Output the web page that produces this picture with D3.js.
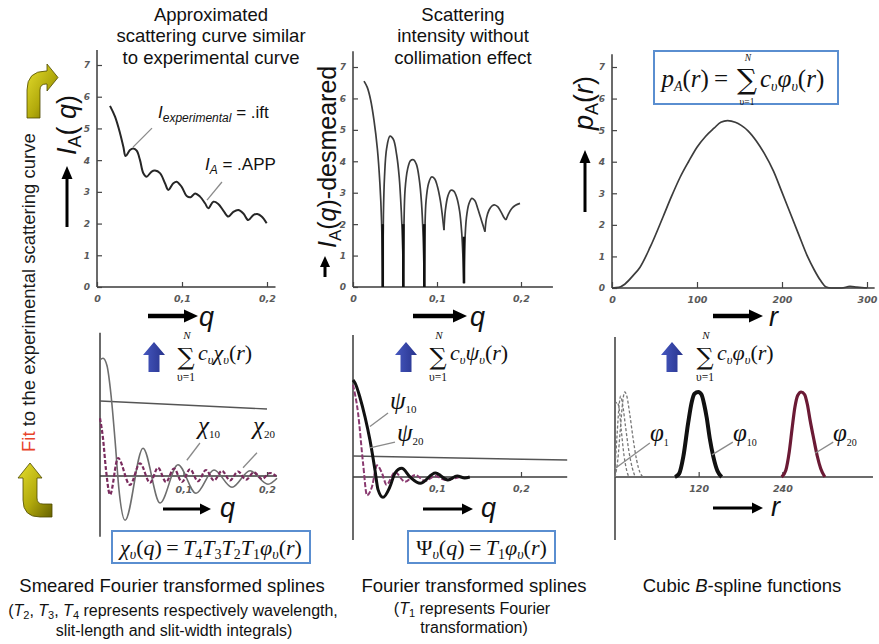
<!DOCTYPE html>
<html><head><meta charset="utf-8">
<script src="https://cdnjs.cloudflare.com/ajax/libs/d3/7.8.5/d3.min.js"></script>
<style>body{margin:0;background:#fff}svg{display:block}</style>
</head><body>
<svg id="c" width="879" height="644"></svg>
<script>
// ================= DATA =================
const titleLeft = ["Approximated", "scattering curve similar", "to experimental curve"];
const titleMid = ["Scattering", "intensity without", "collimation effect"];
const yTicksTop = [0, 1, 2, 3, 4, 5, 6, 7];
const qTicks = [0, 0.1, 0.2];
const qTickLabels = ["0", "0,1", "0,2"];
const qTicksBottom = [0.1, 0.2];
const qTickLabelsBottom = ["0,1", "0,2"];
const rTicks = [0, 100, 200, 300];
const splineTicks = [120, 240];

// top-left: experimental (smeared) scattering curve I_A(q)
const expCurve = [[0.0153,5.71],[0.0212,5.37],[0.0271,4.85],[0.031,4.42],[0.0337,4.13],[0.0388,4.32],[0.0427,4.37],
  [0.0467,4.30],[0.0506,4.0],[0.0545,3.59],[0.0584,3.48],[0.0643,3.64],[0.0682,3.67],[0.0741,3.59],[0.080,3.27],
  [0.0839,3.06],[0.0898,3.27],[0.0937,3.32],[0.0996,3.16],[0.1055,2.87],[0.1102,2.83],[0.1153,2.95],[0.1212,2.85],
  [0.1271,2.64],[0.131,2.48],[0.1369,2.69],[0.1427,2.62],[0.1486,2.41],[0.1545,2.22],[0.1604,2.37],[0.1663,2.43],
  [0.1722,2.32],[0.178,2.11],[0.1839,2.27],[0.1886,2.30],[0.1937,2.22],[0.1996,2.01]];

// top-middle: desmeared intensity, one array per lobe
const lobe1 = [[0.0131,6.55],[0.017,6.35],[0.021,5.95],[0.025,5.3],[0.029,4.4],[0.032,3.3],[0.034,2.1],[0.0354,0]];
const lobe2 = [[0.0354,0],[0.0362,2.3],[0.0375,3.5],[0.040,4.4],[0.044,4.8],[0.048,4.7],[0.052,4.2],[0.055,3.5],[0.0575,2.4],[0.0592,1.2],[0.0599,0]];
const lobe3 = [[0.0599,0],[0.0607,2.0],[0.062,3.1],[0.065,3.75],[0.0685,4.02],[0.072,4.05],[0.0755,3.9],[0.079,3.4],[0.0815,2.7],[0.0835,1.6],[0.0849,0]];
const lobe4 = [[0.0849,0],[0.0857,1.9],[0.087,2.75],[0.090,3.3],[0.0935,3.5],[0.097,3.45],[0.1005,3.2],[0.104,2.75],[0.1065,2.25],[0.1083,1.81]];
const lobe5 = [[0.1083,1.81],[0.110,2.45],[0.113,2.9],[0.1165,3.08],[0.120,3.05],[0.1235,2.85],[0.127,2.4],[0.1295,1.7],[0.131,0.9],[0.1321,0.12]];
const lobe6 = [[0.1321,0.12],[0.133,1.3],[0.135,2.2],[0.138,2.65],[0.1415,2.82],[0.145,2.75],[0.1485,2.5],[0.152,2.2],[0.1555,1.9],[0.1571,1.76]];
const lobe7 = [[0.1571,1.76],[0.159,2.2],[0.162,2.45],[0.1655,2.58],[0.169,2.61],[0.1725,2.55],[0.176,2.4],[0.1795,2.22],[0.1821,2.13]];
const lobe8 = [[0.1821,2.13],[0.185,2.32],[0.189,2.5],[0.1935,2.6],[0.1988,2.66]];
const cuspQ = [0.0354, 0.0599, 0.0849, 0.1321];
const cuspLow = [0, 0, 0, 0.12];
const cuspHigh = [2.0, 2.0, 2.0, 1.6];

// top-right: distance distribution p_A(r)
const pofr = [[0,0],[8,0.02],[15,0.12],[25,0.4],[33,0.66],[45,1.3],[60,2.25],[70,2.9],[80,3.5],[90,4.0],[100,4.46],
  [110,4.8],[120,5.06],[128,5.25],[136,5.3],[145,5.25],[152,5.15],[160,4.98],[170,4.65],[179,4.27],[190,3.7],[199,3.1],
  [210,2.35],[219,1.74],[230,1.0],[238,0.57],[245,0.25],[252,0.03],[258,0],[270,0],[280,0.05],[288,0.03],[300,0]];

// bottom-left: smeared Fourier transformed splines
const chi10 = [[0,1.55],[0.0036,1.57],[0.0084,1.47],[0.0132,1.08],[0.018,0.48],[0.0228,-0.19],[0.030,-0.59],[0.0515,0.37],
  [0.0719,-0.36],[0.0934,0.15],[0.115,-0.23],[0.1365,0.08],[0.1581,-0.15],[0.1796,0.07],[0.2012,-0.11],[0.212,-0.03]];
const chi20 = [[0,0.77],[0.0036,0.5],[0.0072,0.08],[0.012,-0.25],[0.0216,0.24],[0.0359,-0.12],[0.0479,0.17],[0.0599,-0.09],
  [0.0695,0.11],[0.079,-0.08],[0.0886,0.1],[0.0982,-0.08],[0.1078,0.09],[0.1174,-0.07],[0.1269,0.08],[0.1365,-0.06],
  [0.1461,0.07],[0.1557,-0.06],[0.1653,0.06],[0.1749,-0.05],[0.1844,0.05],[0.194,-0.04],[0.2036,0.04],[0.2108,0]];
const chiRef = [[0,1],[0.2,0.893]];

// bottom-middle: Fourier transformed splines
const psi10 = [[0,1.0],[0.0024,0.97],[0.0083,0.82],[0.0143,0.62],[0.0202,0.38],[0.0262,0.07],[0.0298,-0.13],[0.0357,-0.21],
  [0.044,-0.10],[0.050,0.04],[0.058,0.09],[0.068,0.0],[0.080,-0.065],[0.098,0.04],[0.113,-0.03],[0.124,0.01],[0.133,-0.01],[0.139,0]];
const psi20 = [[0,0.95],[0.006,0.66],[0.012,0.14],[0.0167,-0.19],[0.0226,-0.10],[0.0286,0.12],[0.0345,0.04],[0.040,-0.08],
  [0.050,0.05],[0.062,-0.05],[0.074,0.02],[0.086,-0.04],[0.098,0.01],[0.11,-0.03],[0.127,0]];
const psiRef = [[0,0.216],[0.255,0.175]];

// bottom-right: cubic B-spline functions
const phi1a = [[0,0.85],[3,0.88],[6,0.8],[9,0.55],[13,0.25],[17,0.07],[20,0]];
const phi1b = [[0,0.1],[3,0.5],[6,0.85],[8,0.95],[11,0.85],[15,0.6],[20,0.3],[25,0.1],[29,0]];
const phi1c = [[0,0],[4,0.2],[8,0.6],[11,0.88],[14,1.0],[17,0.95],[21,0.75],[26,0.45],[31,0.2],[36,0.05],[40,0]];
const phi10 = [[86,0],[92,0.04],[98,0.24],[105,0.64],[110,0.88],[114,0.98],[119.5,1.0],[124,0.97],[128,0.85],[131.5,0.7],[136,0.45],[141,0.24],[147,0.07],[153,0]];
const phi20 = [[239,0],[245,0.08],[250,0.3],[254,0.57],[258,0.82],[262,0.96],[267,1.0],[272,0.97],[276,0.85],[280,0.66],[285,0.45],[290,0.25],[295,0.1],[301,0]];

// ================= LAYOUT =================
const SANS = "'Liberation Sans', Arial, sans-serif";
const SERIF = "'Liberation Serif', 'Times New Roman', serif";
const SIGMA_FONT = "'DejaVu Serif', serif";
const svg = d3.select("#c");
const defs = svg.append("defs");

const xTL = d3.scaleLinear([0, 0.2], [97, 267]),  yTL = d3.scaleLinear([0, 7], [287, 65]);
const xTM = d3.scaleLinear([0, 0.2], [353, 521]), yTM = d3.scaleLinear([0, 7], [287, 67]);
const xTR = d3.scaleLinear([0, 300], [612, 867]), yTR = d3.scaleLinear([0, 7], [288, 67]);
const xBL = d3.scaleLinear([0, 0.2], [100, 267]), yBL = d3.scaleLinear([0, 1], [476, 401]);
const xBM = d3.scaleLinear([0, 0.2], [353, 521]), yBM = d3.scaleLinear([0, 1], [477, 380]);
const xBR = d3.scaleLinear([0, 360], [615, 866]), yBR = d3.scaleLinear([0, 1], [477, 392]);

// ---------- gradients ----------
const og = defs.append("linearGradient").attr("id", "olive").attr("x1", 0).attr("y1", 0).attr("x2", 1).attr("y2", 1);
og.append("stop").attr("offset", 0).attr("stop-color", "#e6df2e");
og.append("stop").attr("offset", 0.55).attr("stop-color", "#b2aa0c");
og.append("stop").attr("offset", 1).attr("stop-color", "#676200");
const bg = defs.append("linearGradient").attr("id", "blue").attr("x1", 0).attr("y1", 0).attr("x2", 1).attr("y2", 0);
bg.append("stop").attr("offset", 0).attr("stop-color", "#4658c0");
bg.append("stop").attr("offset", 1).attr("stop-color", "#27338c");

// ---------- helpers ----------
// chunks: [{x, y, anchor, size, family, parts:[{t, it, sub, size, shift, fill}]}] -> one <text> element
function formula(parent, base, chunks) {
  const t = parent.append("text").attr("font-family", base.family).attr("font-size", base.size)
    .attr("fill", base.fill || "#111");
  if (base.transform) t.attr("transform", base.transform);
  chunks.forEach(ch => {
    let cur = 0;
    ch.parts.forEach((p, i) => {
      const s = t.append("tspan").text(p.t);
      const target = p.sub ? (p.shift != null ? p.shift : base.size * 0.22) : 0;
      if (i === 0) {
        s.attr("x", ch.x).attr("y", ch.y + target);
        if (ch.anchor) s.attr("text-anchor", ch.anchor);
      } else if (target !== cur) s.attr("dy", target - cur);
      cur = target;
      const sz = p.size || ch.size || (p.sub ? base.size * 0.6 : null);
      if (sz) s.attr("font-size", sz);
      if (ch.family) s.attr("font-family", ch.family);
      if (p.it) s.attr("font-style", "italic");
      if (p.fill) s.attr("fill", p.fill);
    });
  });
  return t;
}
function rich(parent, x, y, parts, base) {
  const t = formula(parent, base, [{ x, y, parts }]);
  if (base.anchor) t.attr("text-anchor", base.anchor);
  return t;
}
function arrow(x1, y1, x2, y2, w, hl, hw, color) {
  const a = Math.atan2(y2 - y1, x2 - x1), c = Math.cos(a), s = Math.sin(a);
  const bx = x2 - hl * c, by = y2 - hl * s;
  svg.append("line").attr("x1", x1).attr("y1", y1).attr("x2", bx + c).attr("y2", by + s)
    .attr("stroke", color).attr("stroke-width", w);
  svg.append("path").attr("d", `M${x2},${y2}L${bx - hw * s},${by + hw * c}L${bx + hw * s},${by - hw * c}Z`).attr("fill", color);
}
function line(data, xs, ys, curve) {
  return d3.line().x(d => xs(d[0])).y(d => ys(d[1])).curve(curve || d3.curveLinear)(data);
}
function styleTicks(g, size) {
  g.select(".domain").remove();
  g.selectAll(".tick line").attr("stroke", "#444").attr("stroke-width", 1.2);
  g.selectAll(".tick text").attr("font-family", "'DejaVu Sans', sans-serif").attr("font-style", "italic")
    .attr("font-weight", "bold").attr("font-size", size || 9).attr("fill", "#5a5a5a");
}
function axisLine(x1, y1, x2, y2) {
  svg.append("line").attr("x1", x1).attr("y1", y1).attr("x2", x2).attr("y2", y2)
    .attr("stroke", "#3a3a3a").attr("stroke-width", 1.5);
}
function leader(xs, ys, a, b) {
  svg.append("line").attr("x1", xs(a[0])).attr("y1", ys(a[1])).attr("x2", xs(b[0])).attr("y2", ys(b[1]))
    .attr("stroke", "#8a8a8a").attr("stroke-width", 1.3);
}

// ================= TITLES =================
titleLeft.forEach((t, i) => svg.append("text").attr("x", 211).attr("y", [20.5, 42, 63.5][i])
  .attr("text-anchor", "middle").attr("font-family", SANS).attr("font-size", 18.5).attr("fill", "#111").text(t));
titleMid.forEach((t, i) => svg.append("text").attr("x", 463).attr("y", [20.5, 42, 63.5][i])
  .attr("text-anchor", "middle").attr("font-family", SANS).attr("font-size", 18.5).attr("fill", "#111").text(t));

// ================= TOP-LEFT PANEL =================
axisLine(xTL(0), yTL(0), xTL(0), yTL(7.47));
axisLine(xTL(0), yTL(0), xTL(0.21), yTL(0));
styleTicks(svg.append("g").attr("transform", `translate(${xTL(0)},0)`)
  .call(d3.axisLeft(yTL).tickValues(yTicksTop).tickSize(-5).tickPadding(7).tickFormat(d3.format("d"))));
styleTicks(svg.append("g").attr("transform", `translate(0,${yTL(0)})`)
  .call(d3.axisBottom(xTL).tickValues(qTicks).tickSize(-5).tickPadding(8).tickFormat((d, i) => qTickLabels[i])), 9.5);
svg.append("path").attr("d", line(expCurve, xTL, yTL, d3.curveCatmullRom)).attr("fill", "none")
  .attr("stroke", "#262626").attr("stroke-width", 2).attr("stroke-linejoin", "round");
leader(xTL, yTL, [0.0424, 4.41], [0.0647, 5.01]);
leader(xTL, yTL, [0.1294, 2.74], [0.147, 3.31]);
rich(svg, 158, 118, [{ t: "I", it: 1 }, { t: "experimental", it: 1, sub: 1, size: 12, shift: 4 }, { t: " =  .ift" }],
  { family: SANS, size: 17 });
rich(svg, 205, 170, [{ t: "I", it: 1 }, { t: "A", it: 1, sub: 1, size: 12, shift: 4 }, { t: " = .APP" }],
  { family: SANS, size: 17 });
rich(svg, 0, 0, [{ t: "I", it: 1 }, { t: "A", sub: 1, size: 18, shift: 5 }, { t: "( " }, { t: "q", it: 1 }, { t: ")" }],
  { family: SANS, size: 27, transform: "translate(76,155) rotate(-90)" });
arrow(67, 227, 67, 166, 3, 13, 5.5, "#000");
arrow(148, 316, 198, 316, 4.5, 14, 6.5, "#000");
rich(svg, 199, 326, [{ t: "q", it: 1 }], { family: SANS, size: 27 });

// ================= TOP-MIDDLE PANEL =================
axisLine(xTM(0), yTM(0), xTM(0), yTM(7.5));
axisLine(xTM(0), yTM(0), xTM(0.238), yTM(0));
styleTicks(svg.append("g").attr("transform", `translate(${xTM(0)},0)`)
  .call(d3.axisLeft(yTM).tickValues(yTicksTop).tickSize(-5).tickPadding(7).tickFormat(d3.format("d"))));
styleTicks(svg.append("g").attr("transform", `translate(0,${yTM(0)})`)
  .call(d3.axisBottom(xTM).tickValues(qTicks).tickSize(-5).tickPadding(8).tickFormat((d, i) => qTickLabels[i])), 9.5);
[lobe1, lobe2, lobe3, lobe4, lobe5, lobe6, lobe7, lobe8].forEach(l =>
  svg.append("path").attr("d", line(l, xTM, yTM, d3.curveCatmullRom)).attr("fill", "none")
    .attr("stroke", "#3c3c3c").attr("stroke-width", 1.7));
cuspQ.forEach((q, i) => svg.append("line").attr("x1", xTM(q)).attr("x2", xTM(q))
  .attr("y1", yTM(cuspLow[i])).attr("y2", yTM(cuspHigh[i])).attr("stroke", "#111").attr("stroke-width", 2.6));
rich(svg, 0, 0, [{ t: "I", it: 1 }, { t: "A", sub: 1, size: 17, shift: 5 }, { t: "(" }, { t: "q", it: 1 }, { t: ")-desmeared" }],
  { family: SANS, size: 25, transform: "translate(336,248) rotate(-90)" });
arrow(325, 277, 325, 256, 3, 11, 5, "#000");
arrow(413, 316, 467, 316, 4.5, 14, 6.5, "#000");
rich(svg, 470, 326, [{ t: "q", it: 1 }], { family: SANS, size: 27 });

// ================= TOP-RIGHT PANEL =================
axisLine(xTR(0), yTR(0), xTR(0), yTR(7.4));
axisLine(xTR(0), yTR(0), xTR(309), yTR(0));
styleTicks(svg.append("g").attr("transform", `translate(${xTR(0)},0)`)
  .call(d3.axisLeft(yTR).tickValues(yTicksTop).tickSize(-5).tickPadding(7).tickFormat(d3.format("d"))));
styleTicks(svg.append("g").attr("transform", `translate(0,${yTR(0)})`)
  .call(d3.axisBottom(xTR).tickValues(rTicks).tickSize(-6).tickPadding(8).tickFormat(d3.format("d"))), 9.5);
svg.append("path").attr("d", line(pofr, xTR, yTR, d3.curveMonotoneX)).attr("fill", "none")
  .attr("stroke", "#3c3c3c").attr("stroke-width", 1.7);
rich(svg, 0, 0, [{ t: "p", it: 1 }, { t: "A", sub: 1, size: 18, shift: 5 }, { t: "(" }, { t: "r", it: 1 }, { t: ")" }],
  { family: SANS, size: 27, transform: "translate(593,130) rotate(-90)" });
arrow(585, 212, 585, 150, 3, 13, 5.5, "#000");
arrow(713, 316, 763, 316, 4.5, 14, 6.5, "#000");
rich(svg, 769, 326, [{ t: "r", it: 1 }], { family: SANS, size: 27 });
// formula box
svg.append("rect").attr("x", 654).attr("y", 51).attr("width", 184).attr("height", 53)
  .attr("fill", "#fff").attr("stroke", "#5a8ed0").attr("stroke-width", 2);
formula(svg, { family: SERIF, size: 25 }, [
  { x: 733, y: 87, anchor: "end", parts: [{ t: "p", it: 1 }, { t: "A", it: 1, sub: 1, size: 14, shift: 4 }, { t: "(" }, { t: "r", it: 1 }, { t: ")\u2009=\u2009" }] },
  { x: 748, y: 60.5, anchor: "middle", size: 9.5, parts: [{ t: "N", it: 1 }] },
  { x: 747, y: 89, anchor: "middle", size: 28, family: SIGMA_FONT, parts: [{ t: "\u2211" }] },
  { x: 747, y: 104.5, anchor: "middle", size: 9.5, parts: [{ t: "\u03c5=1" }] },
  { x: 760, y: 87, parts: [{ t: "c", it: 1 }, { t: "\u03c5", it: 1, sub: 1, size: 14, shift: 4 }, { t: "\u03c6", it: 1 }, { t: "\u03c5", it: 1, sub: 1, size: 14, shift: 4 }, { t: "(" }, { t: "r", it: 1 }, { t: ")" }] }
]);

// ================= LEFT DECORATION =================
svg.append("path").attr("d", "M27,118L27,90Q27,71 46,71L47,71L47,64L58,77.5L47,91L47,84L46,84Q40,84 40,90L40,118Z")
  .attr("fill", "url(#olive)").attr("stroke", "#4e4a00").attr("stroke-width", 0.8);
svg.append("path").attr("d", "M30,463L42,478L37,478L37,498Q37,504 43,504L52,504L52,517L40,517Q23,517 23,500L23,478L18,478Z")
  .attr("fill", "url(#olive)").attr("stroke", "#4e4a00").attr("stroke-width", 0.8);
rich(svg, 0, 0, [{ t: "Fit", fill: "#e8432a" }, { t: " to the experimental scattering curve" }],
  { family: SANS, size: 18.5, fill: "#1a1a1a", transform: "translate(35,452) rotate(-90)" });

// ================= SUM FORMULAS WITH BLUE ARROWS =================
function blueArrow(cx) {
  svg.append("path").attr("d", `M${cx},342L${cx + 11},355L${cx + 5.5},355L${cx + 5.5},372L${cx - 5.5},372L${cx - 5.5},355L${cx - 11},355Z`)
    .attr("fill", "url(#blue)");
}
function sumFormula(sx, fn) {
  formula(svg, { family: SERIF, size: 22 }, [
    { x: sx + 1, y: 339, anchor: "middle", size: 11, parts: [{ t: "N", it: 1 }] },
    { x: sx, y: 365, anchor: "middle", size: 24, family: SIGMA_FONT, parts: [{ t: "\u2211" }] },
    { x: sx, y: 380.5, anchor: "middle", size: 11.5, parts: [{ t: "\u03c5=1" }] },
    { x: sx + 12, y: 360, parts: [{ t: "c", it: 1 }, { t: "\u03c5", it: 1, sub: 1, size: 12.5, shift: 4 }, { t: fn, it: 1 }, { t: "\u03c5", it: 1, sub: 1, size: 12.5, shift: 4 }, { t: "(" }, { t: "r", it: 1 }, { t: ")" }] }
  ]);
}
blueArrow(154); sumFormula(186, "\u03c7");
blueArrow(406); sumFormula(438, "\u03c8");
blueArrow(672); sumFormula(705, "\u03c6");

// ================= BOTTOM-LEFT PANEL =================
axisLine(xBL(0), yBL(1.91), xBL(0), yBL(-0.81));
axisLine(xBL(0), yBL(0), xBL(0.212), yBL(0));
svg.append("path").attr("d", line(chiRef, xBL, yBL)).attr("stroke", "#555").attr("stroke-width", 1.4).attr("fill", "none");
styleTicks(svg.append("g").attr("transform", `translate(0,${yBL(0)})`)
  .call(d3.axisBottom(xBL).tickValues(qTicksBottom).tickSize(-4).tickPadding(10).tickFormat((d, i) => qTickLabelsBottom[i])), 9.5);
svg.append("path").attr("d", line(chi10, xBL, yBL, d3.curveMonotoneX)).attr("fill", "none")
  .attr("stroke", "#6e6e6e").attr("stroke-width", 1.6);
svg.append("path").attr("d", line(chi20, xBL, yBL, d3.curveMonotoneX)).attr("fill", "none")
  .attr("stroke", "#7a2c5e").attr("stroke-width", 2.2).attr("stroke-dasharray", "4,2");
leader(xBL, yBL, [0.104, 0.21], [0.1197, 0.44]);
leader(xBL, yBL, [0.1713, 0.11], [0.1880, 0.31]);
rich(svg, 198, 434, [{ t: "\u03c7", it: 1 }, { t: "10", sub: 1, size: 11, shift: 4 }], { family: SERIF, size: 25 });
rich(svg, 253, 434, [{ t: "\u03c7", it: 1 }, { t: "20", sub: 1, size: 11, shift: 4 }], { family: SERIF, size: 25 });
arrow(163, 509, 211, 509, 3, 11, 5.5, "#000");
rich(svg, 220, 517, [{ t: "q", it: 1 }], { family: SANS, size: 27 });
svg.append("rect").attr("x", 112).attr("y", 531).attr("width", 198).attr("height", 32)
  .attr("fill", "#fff").attr("stroke", "#5a8ed0").attr("stroke-width", 2);
rich(svg, 211, 555, [{ t: "\u03c7", it: 1 }, { t: "\u03c5", it: 1, sub: 1, size: 14, shift: 4 }, { t: "(" }, { t: "q", it: 1 }, { t: ")\u2009=\u2009" },
  { t: "T", it: 1 }, { t: "4", sub: 1, size: 14, shift: 4 }, { t: "T", it: 1 }, { t: "3", sub: 1, size: 14, shift: 4 },
  { t: "T", it: 1 }, { t: "2", sub: 1, size: 14, shift: 4 }, { t: "T", it: 1 }, { t: "1", sub: 1, size: 14, shift: 4 },
  { t: "\u03c6", it: 1 }, { t: "\u03c5", it: 1, sub: 1, size: 14, shift: 4 }, { t: "(" }, { t: "r", it: 1 }, { t: ")" }],
  { family: SERIF, size: 22, anchor: "middle" });

// ================= BOTTOM-MIDDLE PANEL =================
axisLine(xBM(0), yBM(1.464), xBM(0), yBM(-0.65));
axisLine(xBM(0), yBM(0), xBM(0.255), yBM(0));
svg.append("path").attr("d", line(psiRef, xBM, yBM)).attr("stroke", "#555").attr("stroke-width", 1.4).attr("fill", "none");
styleTicks(svg.append("g").attr("transform", `translate(0,${yBM(0)})`)
  .call(d3.axisBottom(xBM).tickValues(qTicksBottom).tickSize(-5).tickPadding(8).tickFormat((d, i) => qTickLabelsBottom[i])), 9.5);
svg.append("path").attr("d", line(psi20, xBM, yBM, d3.curveMonotoneX)).attr("fill", "none")
  .attr("stroke", "#8a3a70").attr("stroke-width", 2).attr("stroke-dasharray", "5,2");
svg.append("path").attr("d", line(psi10, xBM, yBM, d3.curveMonotoneX)).attr("fill", "none")
  .attr("stroke", "#111").attr("stroke-width", 3);
leader(xBM, yBM, [0.0202, 0.52], [0.0417, 0.66]);
leader(xBM, yBM, [0.0202, 0.30], [0.0500, 0.36]);
rich(svg, 390, 409, [{ t: "\u03c8", it: 1 }, { t: "10", sub: 1, size: 11, shift: 4 }], { family: SERIF, size: 25 });
rich(svg, 397, 441, [{ t: "\u03c8", it: 1 }, { t: "20", sub: 1, size: 11, shift: 4 }], { family: SERIF, size: 25 });
arrow(423, 509, 473, 509, 3, 11, 5.5, "#000");
rich(svg, 481, 517, [{ t: "q", it: 1 }], { family: SANS, size: 27 });
svg.append("rect").attr("x", 408).attr("y", 531).attr("width", 147).attr("height", 32)
  .attr("fill", "#fff").attr("stroke", "#5a8ed0").attr("stroke-width", 2);
rich(svg, 481.5, 555, [{ t: "\u03a8" }, { t: "\u03c5", it: 1, sub: 1, size: 14, shift: 4 }, { t: "(" }, { t: "q", it: 1 }, { t: ")\u2009=\u2009" },
  { t: "T", it: 1 }, { t: "1", sub: 1, size: 14, shift: 4 }, { t: "\u03c6", it: 1 }, { t: "\u03c5", it: 1, sub: 1, size: 14, shift: 4 },
  { t: "(" }, { t: "r", it: 1 }, { t: ")" }], { family: SERIF, size: 22, anchor: "middle" });

// ================= BOTTOM-RIGHT PANEL =================
axisLine(xBR(0), yBR(1.647), xBR(0), yBR(-0.741));
axisLine(xBR(0), yBR(0), xBR(370), yBR(0));
styleTicks(svg.append("g").attr("transform", `translate(0,${yBR(0)})`)
  .call(d3.axisBottom(xBR).tickValues(splineTicks).tickSize(-5).tickPadding(8).tickFormat(d3.format("d"))), 9.5);
[phi1a, phi1b, phi1c].forEach(d => svg.append("path").attr("d", line(d, xBR, yBR, d3.curveMonotoneX))
  .attr("fill", "none").attr("stroke", "#777").attr("stroke-width", 1.3).attr("stroke-dasharray", "3,2"));
svg.append("path").attr("d", line(phi10, xBR, yBR, d3.curveMonotoneX)).attr("fill", "none")
  .attr("stroke", "#111").attr("stroke-width", 4);
svg.append("path").attr("d", line(phi20, xBR, yBR, d3.curveMonotoneX)).attr("fill", "none")
  .attr("stroke", "#6b1a35").attr("stroke-width", 3.2);
leader(xBR, yBR, [0, 0.1], [50, 0.4]);
leader(xBR, yBR, [139, 0.26], [169, 0.41]);
leader(xBR, yBR, [287, 0.28], [313, 0.41]);
rich(svg, 650, 441, [{ t: "\u03c6", it: 1 }, { t: "1", sub: 1, size: 10, shift: 5 }], { family: SERIF, size: 25 });
rich(svg, 733, 441, [{ t: "\u03c6", it: 1 }, { t: "10", sub: 1, size: 10, shift: 5 }], { family: SERIF, size: 25 });
rich(svg, 833, 441, [{ t: "\u03c6", it: 1 }, { t: "20", sub: 1, size: 10, shift: 5 }], { family: SERIF, size: 25 });
arrow(713, 508, 763, 508, 3, 11, 5.5, "#000");
rich(svg, 771, 516, [{ t: "r", it: 1 }], { family: SANS, size: 27 });

// ================= CAPTIONS =================
svg.append("text").attr("x", 172).attr("y", 592).attr("text-anchor", "middle").attr("font-family", SANS).attr("font-size", 18.5).attr("fill", "#111").text("Smeared Fourier transformed splines");
rich(svg, 173, 616, [{ t: "(" }, { t: "T", it: 1 }, { t: "2", sub: 1, size: 11, shift: 3 }, { t: ", " }, { t: "T", it: 1 }, { t: "3", sub: 1, size: 11, shift: 3 },
  { t: ", " }, { t: "T", it: 1 }, { t: "4", sub: 1, size: 11, shift: 3 }, { t: " represents respectively wavelength," }],
  { family: SANS, size: 16, anchor: "middle" });
svg.append("text").attr("x", 174).attr("y", 636).attr("text-anchor", "middle").attr("font-family", SANS).attr("font-size", 16).attr("fill", "#111").text("slit-length and slit-width integrals)");
svg.append("text").attr("x", 474).attr("y", 592).attr("text-anchor", "middle").attr("font-family", SANS).attr("font-size", 18.5).attr("fill", "#111").text("Fourier transformed splines");
rich(svg, 472, 614, [{ t: "(" }, { t: "T", it: 1 }, { t: "1", sub: 1, size: 11, shift: 3 }, { t: " represents Fourier" }],
  { family: SANS, size: 16, anchor: "middle" });
svg.append("text").attr("x", 474).attr("y", 633).attr("text-anchor", "middle").attr("font-family", SANS).attr("font-size", 16).attr("fill", "#111").text("transformation)");
rich(svg, 742, 592, [{ t: "Cubic " }, { t: "B", it: 1 }, { t: "-spline functions" }], { family: SANS, size: 18.5, anchor: "middle" });
</script></body></html>
